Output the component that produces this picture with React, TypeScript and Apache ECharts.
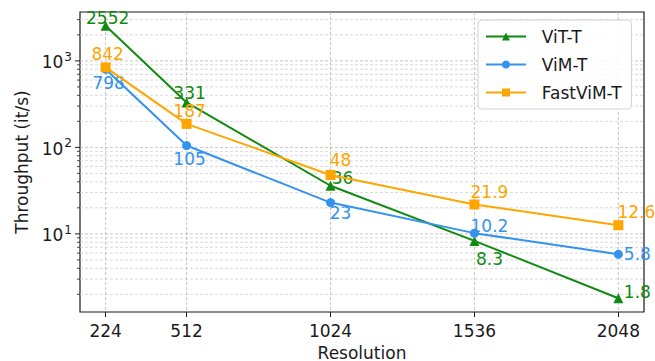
import React, { useEffect, useRef } from "react";
import * as echarts from "echarts";

// ---- data ----
const resolutions = [224, 512, 1024, 1536, 2048];
const vitT = [2552, 331, 36, 8.3, 1.8];
const vimT = [798, 105, 23, 10.2, 5.8];
const fastVimT = [842, 187, 48, 21.9, 12.6];
const seriesNames = ["ViT-T", "ViM-T", "FastViM-T"];

// tick positions
const xTicks = [224, 512, 1024, 1536, 2048];
const yMajor = [10, 100, 1000];
const yMinor = [2, 3, 4, 5, 6, 7, 8, 9, 20, 30, 40, 50, 60, 70, 80, 90, 200, 300, 400, 500, 600, 700, 800, 900, 2000, 3000];

// axis extents (matplotlib-like 5% margins)
const X_MIN = 132.8;
const X_MAX = 2139.2;
const Y_MIN = 1.25;
const Y_MAX = 3673;

// label placement (style): offset of label centre from the marker
const vitOffsets = [[2, -8], [3, -9], [12, -8], [15, 18], [19, -6]];
const vimOffsets = [[3, 14], [3, 13], [10, 10], [15, -7], [19, 0]];
const fastOffsets = [[2, -13], [3, -13], [10, -15], [15, -12], [18, -13]];

const FONT = "DejaVu Sans";
const GREEN = "#108a10";
const BLUE = "#3392ee";
const ORANGE = "#ffa500";

function lineSeries(name: string, ys: number[], offsets: number[][], color: string, symbol: string, symbolSize: number, z: number) {
  return {
    name,
    type: "line",
    z,
    symbol,
    symbolSize,
    lineStyle: { color, width: 2 },
    itemStyle: { color },
    emphasis: { disabled: true },
    data: ys.map((v, i) => ({
      value: [resolutions[i], v],
      label: { offset: offsets[i] },
    })),
    label: {
      show: true,
      position: "inside",
      align: "center",
      verticalAlign: "middle",
      color,
      fontFamily: FONT,
      fontSize: 17,
      formatter: (p: any) => String(p.value[1]),
    },
  };
}

export default function App() {
  const ref = useRef<HTMLDivElement>(null);
  useEffect(() => {
    if (!ref.current) return;
    const chart = echarts.init(ref.current, null, { renderer: "svg" });
    const option: any = {
      animation: false,
      backgroundColor: "#fff",
      grid: {
        left: 80,
        right: 11,
        top: 12,
        bottom: 49,
        containLabel: false,
        outerBoundsMode: "none",
        show: true,
        borderColor: "#1a1a1a",
        borderWidth: 1.2,
        backgroundColor: "transparent",
      },
      legend: {
        data: seriesNames,
        orient: "vertical",
        left: 478,
        top: 20,
        padding: [8, 10, 8, 7],
        itemGap: 11,
        itemWidth: 40,
        itemHeight: 10,
        backgroundColor: "rgba(255,255,255,0.85)",
        borderColor: "#d4d4d4",
        borderWidth: 1,
        borderRadius: 4,
        formatter: (name: string) => "  " + name,
        textStyle: { fontFamily: FONT, fontSize: 17, color: "#1a1a1a" },
      },
      xAxis: {
        type: "value",
        min: X_MIN,
        max: X_MAX,
        name: "Resolution",
        nameLocation: "middle",
        nameGap: 32,
        nameTextStyle: { fontFamily: FONT, fontSize: 17, color: "#1a1a1a", lineHeight: 17 },
        axisLine: { show: false },
        splitLine: { show: false },
        axisTick: { show: true, customValues: xTicks, length: 5, lineStyle: { color: "#1a1a1a" } },
        axisLabel: {
          customValues: xTicks,
          fontFamily: FONT,
          fontSize: 17,
          color: "#1a1a1a",
          margin: 10,
          formatter: (v: number) => String(v),
        },
      },
      yAxis: {
        type: "log",
        logBase: 10,
        min: Y_MIN,
        max: Y_MAX,
        name: "Throughput (it/s)",
        nameLocation: "middle",
        nameGap: 50,
        nameTextStyle: { fontFamily: FONT, fontSize: 17, color: "#1a1a1a" },
        axisLine: { show: false },
        splitLine: { show: false },
        axisTick: { show: false },
        axisLabel: {
          fontFamily: FONT,
          fontSize: 17,
          color: "#1a1a1a",
          margin: 8,
          formatter: (v: number) => {
            const e = Math.log10(v);
            const r = Math.round(e);
            if (Math.abs(e - r) < 1e-6 && r >= 1 && r <= 3) return "{b|10}{s|" + r + "}";
            return "";
          },
          rich: {
            b: { fontFamily: FONT, fontSize: 17, color: "#1a1a1a", verticalAlign: "bottom", lineHeight: 20 },
            s: { fontFamily: FONT, fontSize: 12, color: "#1a1a1a", verticalAlign: "top", lineHeight: 20, padding: [0, 0, 0, 1] },
          },
        },
      },
      series: [
        // horizontal grid lines + y ticks
        {
          type: "custom",
          silent: true,
          z: 0,
          clip: false,
          data: [...yMinor.map((v) => [X_MIN, v, 0]), ...yMajor.map((v) => [X_MIN, v, 1])],
          renderItem: (params: any, api: any) => {
            const v = api.value(1);
            const major = api.value(2) === 1;
            const p = api.coord([X_MIN, v]);
            const cs = params.coordSys;
            return {
              type: "group",
              children: [
                {
                  type: "line",
                  shape: { x1: cs.x, y1: p[1], x2: cs.x + cs.width, y2: p[1] },
                  style: { stroke: major ? "#b8b8b8" : "#cfcfcf", lineWidth: 0.8, lineDash: [3, 2] },
                },
                {
                  type: "line",
                  shape: { x1: cs.x - (major ? 5 : 3), y1: p[1], x2: cs.x, y2: p[1] },
                  style: { stroke: "#1a1a1a", lineWidth: major ? 1 : 0.8 },
                },
              ],
            };
          },
        },
        // vertical grid lines
        {
          type: "custom",
          silent: true,
          z: 0,
          clip: false,
          data: xTicks.map((v) => [v, Y_MIN]),
          renderItem: (params: any, api: any) => {
            const p = api.coord([api.value(0), Y_MIN]);
            const cs = params.coordSys;
            return {
              type: "line",
              shape: { x1: p[0], y1: cs.y, x2: p[0], y2: cs.y + cs.height },
              style: { stroke: "#b8b8b8", lineWidth: 0.8, lineDash: [3, 2] },
            };
          },
        },
        lineSeries("ViT-T", vitT, vitOffsets, GREEN, "triangle", 10, 3),
        lineSeries("ViM-T", vimT, vimOffsets, BLUE, "circle", 9, 4),
        lineSeries("FastViM-T", fastVimT, fastOffsets, ORANGE, "rect", 10, 5),
      ],
    };
    chart.setOption(option);
    return () => chart.dispose();
  }, []);
  return (
    <div
      ref={ref}
      style={{ position: "absolute", left: 0, top: 0, width: 655, height: 361 }}
    />
  );
}
